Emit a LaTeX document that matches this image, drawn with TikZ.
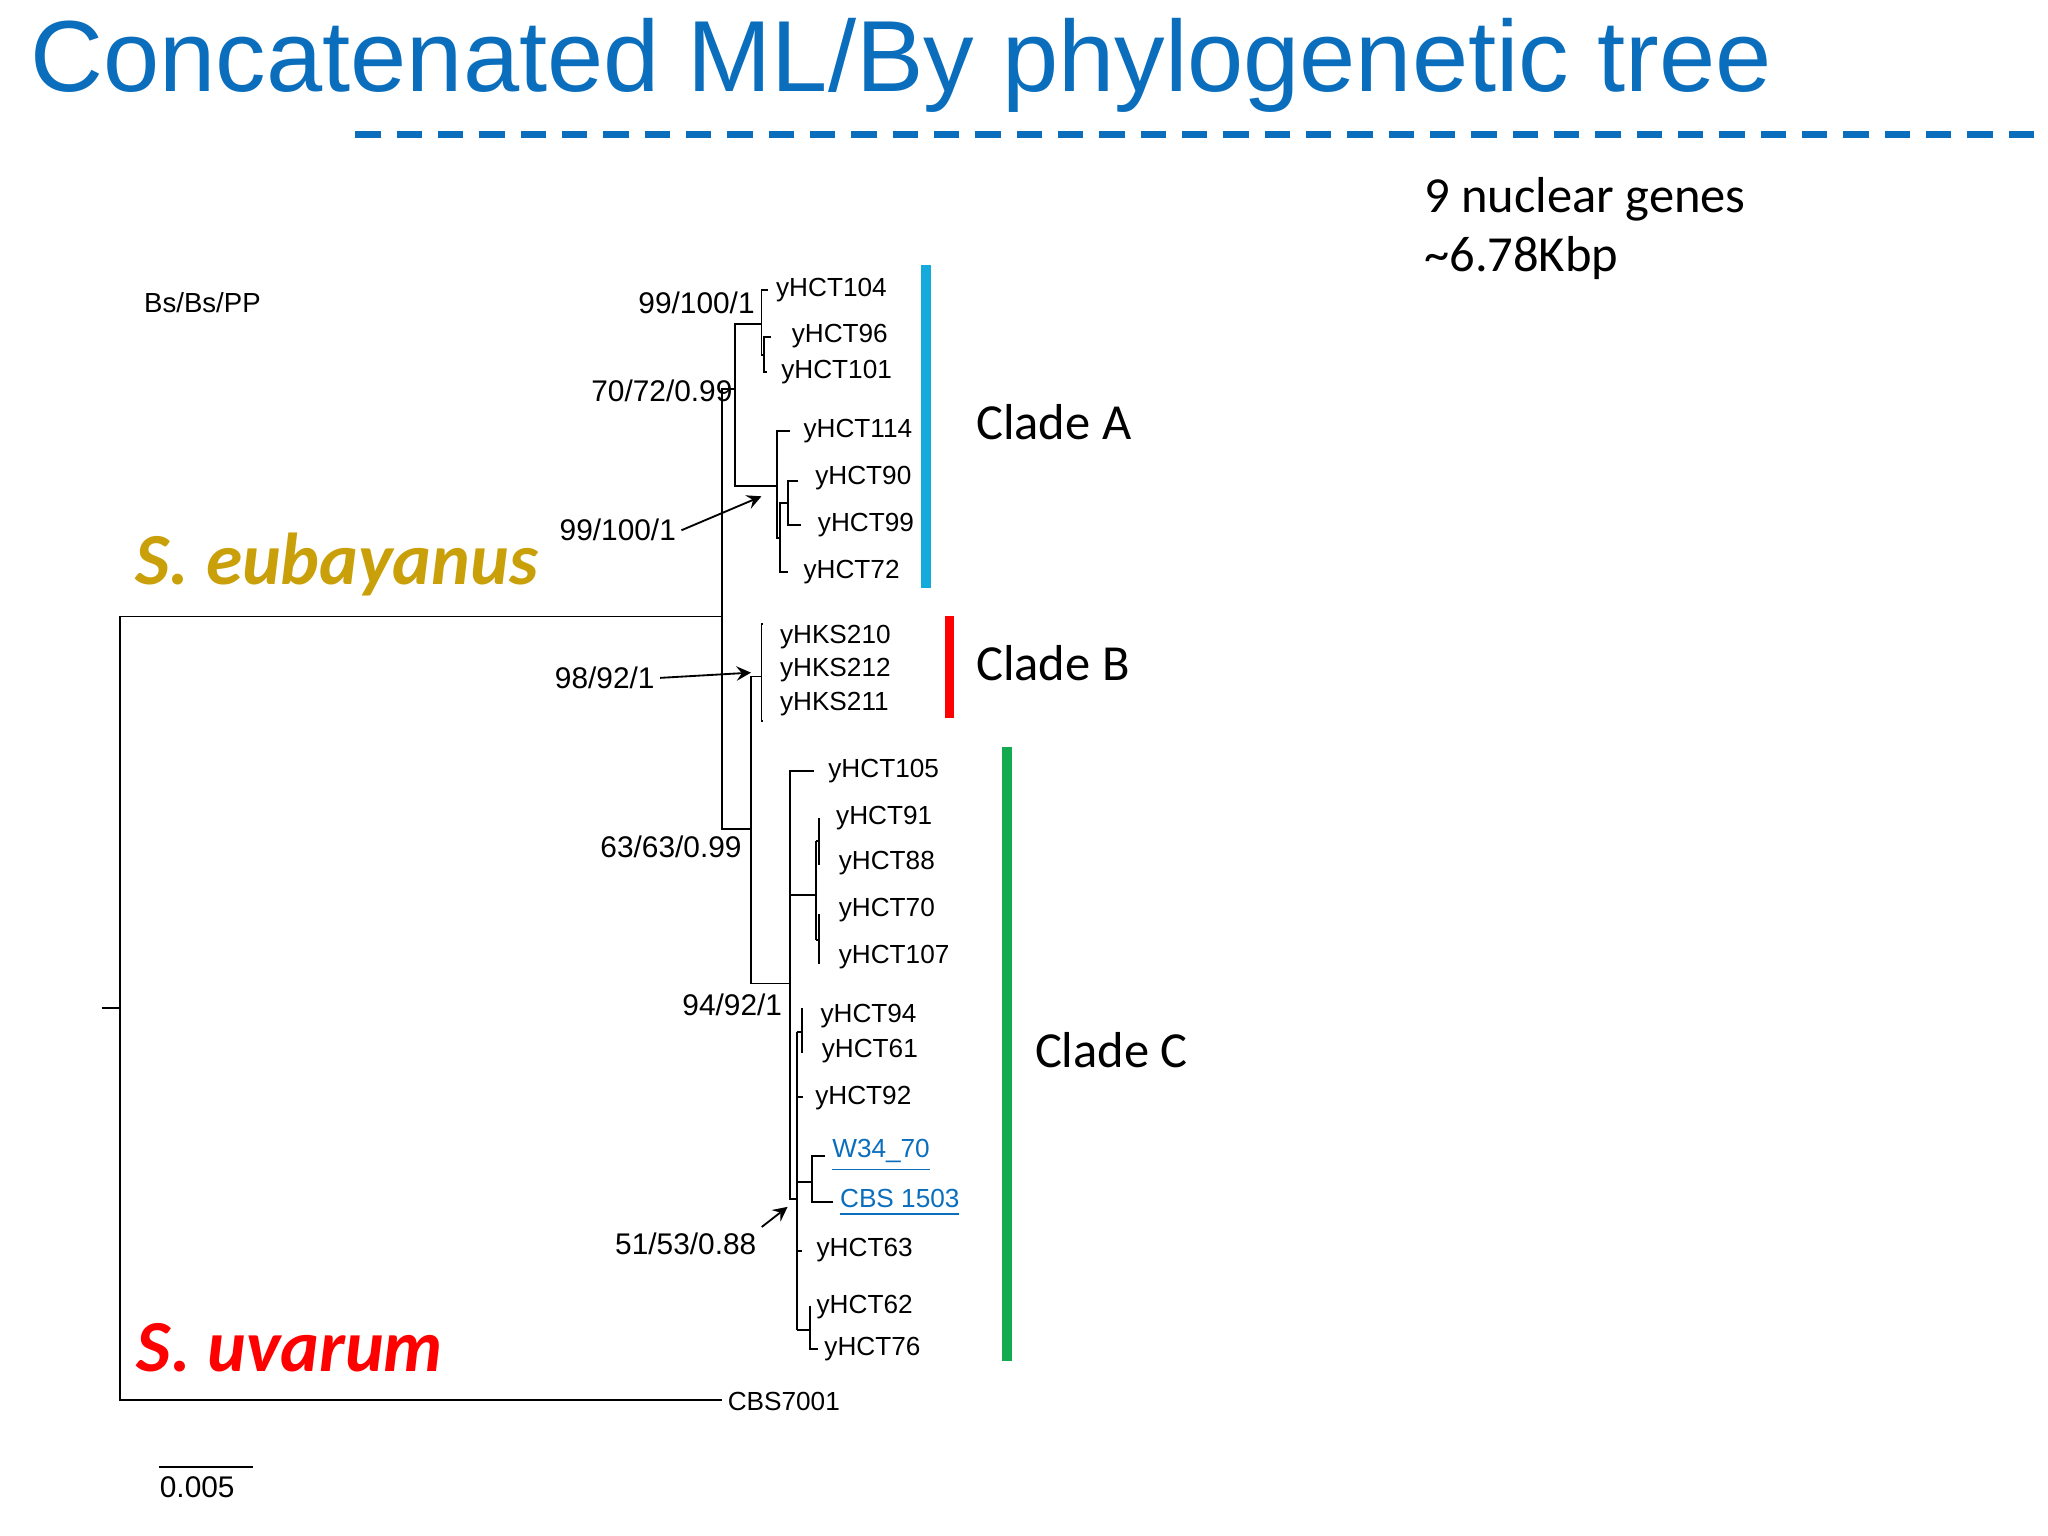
\documentclass[tikz,border=0pt]{standalone}
\usepackage{fontspec}
\setmainfont{Liberation Sans}
\newfontfamily\carlitofont{Carlito}
\definecolor{tblue}{HTML}{0A6EBD}
\definecolor{gold}{HTML}{C9A00A}
\begin{document}
\begin{tikzpicture}[x=0.01cm,y=-0.01cm,
  br/.style={line width=0.4pt},
  lab/.style={font=\fontsize{5.7}{6}\selectfont,anchor=west,inner sep=1pt},
  sup/.style={font=\fontsize{6.5}{7}\selectfont,inner sep=1pt},
  clade/.style={font=\carlitofont\fontsize{11}{12}\selectfont,anchor=west},
  arr/.style={->,>=stealth,line width=0.4pt}]
\useasboundingbox (0,0) rectangle (1568,1176);
\node (title) at (690,50) {\fontsize{22}{24}\selectfont\color{tblue}Concatenated ML/By phylogenetic tree};
\draw[tblue,line width=1.5pt,dash pattern=on 5.5pt off 3.5pt] (272,103) -- (1568,103);
\node[anchor=west,font=\carlitofont\fontsize{11}{13}\selectfont,align=left] (genes) at (1078,175) {9 nuclear genes\\\textasciitilde6.78Kbp};
\node[font=\fontsize{6}{7}\selectfont] (bs) at (155,232) {Bs/Bs/PP};
\node[font=\carlitofont\bfseries\itshape\fontsize{16}{17}\selectfont,text=gold] (eub) at (258,432) {S. eubayanus};
\node[font=\carlitofont\bfseries\itshape\fontsize{16}{17}\selectfont,text=red] (uva) at (222,1032) {S. uvarum};
% tree
\draw[br] (78,772) -- (92,772);
\draw[br] (553,472) -- (92,472) -- (92,1072) -- (553,1072);
\node[lab] (cbs) at (553,1073) {CBS7001};
\draw[br] (563,298) -- (553,298) -- (553,635) -- (575,635);
% clade A
\draw[br] (583,248) -- (563,248) -- (563,372) -- (595,372);
\draw[br] (588,222) -- (583,222) -- (583,272) -- (585,272);
\draw[br] (590,258) -- (585,258) -- (585,285) -- (587,285);
\node[lab] (a104) at (590,222) {yHCT104}; \node[lab] (a96) at (602,257) {yHCT96}; \node[lab] (a101) at (594,285) {yHCT101};
\draw[br] (605,330) -- (595,330) -- (595,412) -- (597,412);
\draw[br] (603,385) -- (597,385) -- (597,438) -- (603,438);
\draw[br] (611,368) -- (603,368) -- (603,402) -- (613,402);
\node[lab] (a114) at (611,330) {yHCT114}; \node[lab] (a90) at (620,366) {yHCT90};
\node[lab] (a99) at (622,402) {yHCT99}; \node[lab] (a72) at (611,438) {yHCT72};
% B+C
\draw[br] (583,518) -- (575,518) -- (575,753) -- (605,753);
\draw[br] (584,478) -- (583,478) -- (583,552) -- (584,552);
\node[lab] (b210) at (593,488) {yHKS210}; \node[lab] (b212) at (593,513) {yHKS212}; \node[lab] (b211) at (593,539) {yHKS211};
% clade C
\draw[br] (623,590) -- (605,590) -- (605,918) -- (610,918);
\draw[br] (605,685) -- (625,685);
\draw[br] (625,644) -- (625,720);
\draw[br] (627,626) -- (627,662); \draw[br] (625,644) -- (627,644);
\draw[br] (627,700) -- (627,738); \draw[br] (625,720) -- (627,720);
\node[lab] (c105) at (630,590) {yHCT105}; \node[lab] (c91) at (636,626) {yHCT91};
\node[lab] (c88) at (638,661) {yHCT88}; \node[lab] (c70) at (638,697) {yHCT70}; \node[lab] (c107) at (638,733) {yHCT107};
\draw[br] (610,790) -- (610,1018);
\draw[br] (610,790) -- (614,790); \draw[br] (614,772) -- (614,806);
\draw[br] (610,840) -- (615,840);
\draw[br] (610,905) -- (622,905); \draw[br] (632,885) -- (622,885) -- (622,920) -- (638,920);
\draw[br] (610,958) -- (614,958);
\draw[br] (610,1018) -- (620,1018); \draw[br] (620,1000) -- (620,1033) -- (626,1033);
\node[lab] (c94) at (624,778) {yHCT94}; \node[lab] (c61) at (625,805) {yHCT61};
\node[lab] (c92) at (620,841) {yHCT92};
\node[lab,text=tblue] (w34) at (633,885) {\underline{W34\_70}};
\node[lab,text=tblue] (cbs1503) at (639,921) {\underline{CBS 1503}};
\node[lab] (c63) at (621,957) {yHCT63}; \node[lab] (c62) at (621,1001) {yHCT62}; \node[lab] (c76) at (627,1033) {yHCT76};
% support values
\node[sup,anchor=east] (s1) at (582,232) {99/100/1};
\node[sup,anchor=east] (s2) at (565,299) {70/72/0.99};
\node[sup,anchor=east] (s3) at (572,648) {63/63/0.99};
\node[sup,anchor=east] (s4) at (603,769) {94/92/1};
\node[sup] (s5) at (473,406) {99/100/1};
\node[sup] (s6) at (463,519) {98/92/1};
\node[sup] (s7) at (525,952) {51/53/0.88};
\coordinate (t5) at (583,380); \coordinate (t6) at (575,515); \coordinate (t7) at (603,924);
\draw[arr] (s5.east) -- (t5);
\draw[arr] (s6.east) -- (t6);
\draw[arr] (s7.north east) -- (t7);
% clade bars
\draw[line width=2pt,color={rgb,255:red,20;green,170;blue,220}] (709,203) -- (709,450);
\draw[line width=2pt,red] (727,472) -- (727,550);
\draw[line width=2pt,color={rgb,255:red,20;green,170;blue,80}] (771,572) -- (771,1042);
\node[clade] (ca) at (735,323) {Clade A};
\node[clade] (cb) at (735,508) {Clade B};
\node[clade] (cc) at (780,804) {Clade C};
% scale
\draw[br] (122,1123) -- (194,1123);
\node[sup] (sc) at (151,1139) {0.005};
\end{tikzpicture}
\end{document}
